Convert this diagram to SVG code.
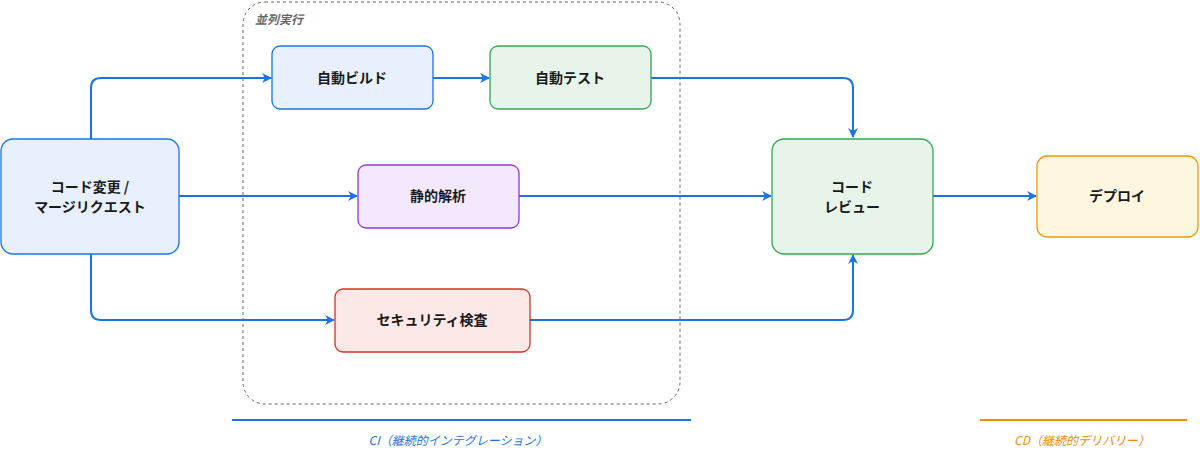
<svg xmlns="http://www.w3.org/2000/svg" width="1200" height="466" viewBox="0 0 1200 466">
<style>
.n{stroke-width:1.3}
.t{font-family:"Noto Sans CJK JP","Noto Sans",sans-serif;font-size:14px;font-weight:bold;fill:#1a1a1a;text-anchor:middle}
.c{fill:none;stroke:#1a73e8;stroke-width:2}
.it{font-family:"Noto Sans CJK JP","Noto Sans",sans-serif;font-size:12px;font-style:italic}
</style>
<defs><marker id="a" viewBox="0 0 10 10" refX="9" refY="5" markerWidth="5" markerHeight="5" orient="auto"><path d="M0,0L10,5L0,10L3,5z" fill="#1a73e8"/></marker></defs>
<rect x="243" y="2" width="437" height="402" rx="22" fill="none" stroke="#666" stroke-dasharray="3,3"/>
<text x="255" y="24" class="it" fill="#666" font-weight="bold">並列実行</text>
<g id="connectors">
<path class="c" d="M91,139V88Q91,78 101,78H271" marker-end="url(#a)"/>
<path class="c" d="M433,78H489" marker-end="url(#a)"/>
<path class="c" d="M651,78H843Q853,78 853,88V137" marker-end="url(#a)"/>
<path class="c" d="M179,196H357" marker-end="url(#a)"/>
<path class="c" d="M519,196H771" marker-end="url(#a)"/>
<path class="c" d="M91,254V310Q91,320 101,320H334" marker-end="url(#a)"/>
<path class="c" d="M530,320H843Q853,320 853,310V255" marker-end="url(#a)"/>
<path class="c" d="M933,196H1036" marker-end="url(#a)"/>
</g>
<g id="n1"><rect class="n" x="1" y="139" width="178" height="115" rx="12" fill="#e8f0fe" stroke="#1a73e8"/><text class="t" x="90" y="192">コード変更 /</text><text class="t" x="90" y="212">マージリクエスト</text></g>
<g id="n2"><rect class="n" x="272" y="46" width="161" height="63" rx="8" fill="#e8f0fe" stroke="#1a73e8"/><text class="t" x="352" y="83">自動ビルド</text></g>
<g id="n3"><rect class="n" x="490" y="46" width="161" height="63" rx="8" fill="#e6f4ea" stroke="#34a853"/><text class="t" x="570" y="83">自動テスト</text></g>
<g id="n4"><rect class="n" x="358" y="165" width="161" height="63" rx="8" fill="#f3e8fd" stroke="#9334e6"/><text class="t" x="438" y="201">静的解析</text></g>
<g id="n5"><rect class="n" x="335" y="289" width="195" height="63" rx="8" fill="#fce8e6" stroke="#d93025"/><text class="t" x="432" y="325">セキュリティ検査</text></g>
<g id="n6"><rect class="n" x="772" y="139" width="161" height="115" rx="12" fill="#e6f4ea" stroke="#34a853"/><text class="t" x="852" y="192">コード</text><text class="t" x="852" y="212">レビュー</text></g>
<g id="n7"><rect class="n" x="1037" y="156" width="161" height="81" rx="10" fill="#fef7e0" stroke="#f29900"/><text class="t" x="1117" y="201">デプロイ</text></g>
<line x1="232" y1="420" x2="691" y2="420" stroke="#1a73e8" stroke-width="2"/>
<text x="458" y="445" class="it" fill="#1a73e8" text-anchor="middle">CI（継続的インテグレーション）</text>
<line x1="980" y1="420" x2="1187" y2="420" stroke="#f28b00" stroke-width="2"/>
<text x="1082" y="445" class="it" fill="#f28b00" text-anchor="middle">CD（継続的デリバリー）</text>
</svg>
